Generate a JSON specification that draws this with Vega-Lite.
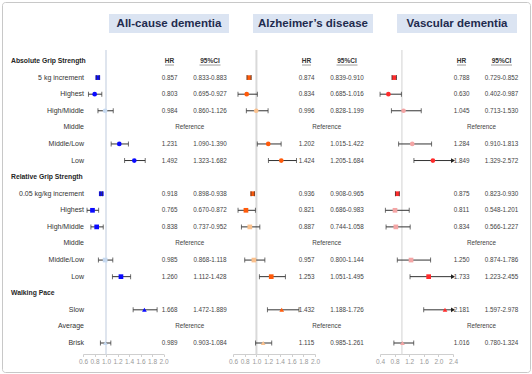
{
"$schema":"https://vega.github.io/schema/vega-lite/v6.json",
"width":532,"height":374,
"autosize":{"type":"fit","contains":"padding"},
"padding":2,
"background":"#ffffff",
"config":{"view":{"stroke":"#c8c8c8","strokeWidth":1,"cornerRadius":3},"font":"Liberation Sans","text":{"font":"Liberation Sans","baseline":"middle"}},
"datasets":{
"rows":[
{"key":"Absolute Grip Strength","label":"Absolute Grip Strength","kind":"hdr"},
{"key":"Absolute: 5 kg increment","label":"5 kg increment","kind":"lbl"},
{"key":"Absolute: Highest","label":"Highest","kind":"lbl"},
{"key":"Absolute: High/Middle","label":"High/Middle","kind":"lbl"},
{"key":"Absolute: Middle","label":"Middle","kind":"lbl"},
{"key":"Absolute: Middle/Low","label":"Middle/Low","kind":"lbl"},
{"key":"Absolute: Low","label":"Low","kind":"lbl"},
{"key":"Relative Grip Strength","label":"Relative Grip Strength","kind":"hdr"},
{"key":"Relative: 0.05 kg/kg increment","label":"0.05 kg/kg increment","kind":"lbl"},
{"key":"Relative: Highest","label":"Highest","kind":"lbl"},
{"key":"Relative: High/Middle","label":"High/Middle","kind":"lbl"},
{"key":"Relative: Middle","label":"Middle","kind":"lbl"},
{"key":"Relative: Middle/Low","label":"Middle/Low","kind":"lbl"},
{"key":"Relative: Low","label":"Low","kind":"lbl"},
{"key":"Walking Pace","label":"Walking Pace","kind":"hdr"},
{"key":"Walking: Slow","label":"Slow","kind":"lbl"},
{"key":"Walking: Average","label":"Average","kind":"lbl"},
{"key":"Walking: Brisk","label":"Brisk","kind":"lbl"}
],
"refs":[{"key":"Absolute: Middle"},{"key":"Relative: Middle"},{"key":"Walking: Average"}],
"titles":[{"outcome":"All-cause dementia"},{"outcome":"Alzheimer’s disease"},{"outcome":"Vascular dementia"}],
"cols":[{"col":"HR","text":"HR"},{"col":"CI","text":"95%CI"}],
"est":[
{"outcome":"ACD","key":"Absolute: 5 kg increment","measure":"Increment","hr":0.857,"lo":0.833,"hi":0.883,"ci":"0.833-0.883","sig":true},
{"outcome":"ACD","key":"Absolute: Highest","measure":"Absolute","hr":0.803,"lo":0.695,"hi":0.927,"ci":"0.695-0.927","sig":true},
{"outcome":"ACD","key":"Absolute: High/Middle","measure":"Absolute","hr":0.984,"lo":0.860,"hi":1.126,"ci":"0.860-1.126","sig":false},
{"outcome":"ACD","key":"Absolute: Middle/Low","measure":"Absolute","hr":1.231,"lo":1.090,"hi":1.390,"ci":"1.090-1.390","sig":true},
{"outcome":"ACD","key":"Absolute: Low","measure":"Absolute","hr":1.492,"lo":1.323,"hi":1.682,"ci":"1.323-1.682","sig":true},
{"outcome":"ACD","key":"Relative: 0.05 kg/kg increment","measure":"Increment","hr":0.918,"lo":0.898,"hi":0.938,"ci":"0.898-0.938","sig":true},
{"outcome":"ACD","key":"Relative: Highest","measure":"Relative","hr":0.765,"lo":0.670,"hi":0.872,"ci":"0.670-0.872","sig":true},
{"outcome":"ACD","key":"Relative: High/Middle","measure":"Relative","hr":0.838,"lo":0.737,"hi":0.952,"ci":"0.737-0.952","sig":true},
{"outcome":"ACD","key":"Relative: Middle/Low","measure":"Relative","hr":0.985,"lo":0.868,"hi":1.118,"ci":"0.868-1.118","sig":false},
{"outcome":"ACD","key":"Relative: Low","measure":"Relative","hr":1.260,"lo":1.112,"hi":1.428,"ci":"1.112-1.428","sig":true},
{"outcome":"ACD","key":"Walking: Slow","measure":"Walking","hr":1.668,"lo":1.472,"hi":1.889,"ci":"1.472-1.889","sig":true},
{"outcome":"ACD","key":"Walking: Brisk","measure":"Walking","hr":0.989,"lo":0.903,"hi":1.084,"ci":"0.903-1.084","sig":false},
{"outcome":"AD","key":"Absolute: 5 kg increment","measure":"Increment","hr":0.874,"lo":0.839,"hi":0.910,"ci":"0.839-0.910","sig":true},
{"outcome":"AD","key":"Absolute: Highest","measure":"Absolute","hr":0.834,"lo":0.685,"hi":1.016,"ci":"0.685-1.016","sig":true},
{"outcome":"AD","key":"Absolute: High/Middle","measure":"Absolute","hr":0.996,"lo":0.828,"hi":1.199,"ci":"0.828-1.199","sig":false},
{"outcome":"AD","key":"Absolute: Middle/Low","measure":"Absolute","hr":1.202,"lo":1.015,"hi":1.422,"ci":"1.015-1.422","sig":true},
{"outcome":"AD","key":"Absolute: Low","measure":"Absolute","hr":1.424,"lo":1.205,"hi":1.684,"ci":"1.205-1.684","sig":true},
{"outcome":"AD","key":"Relative: 0.05 kg/kg increment","measure":"Increment","hr":0.936,"lo":0.908,"hi":0.965,"ci":"0.908-0.965","sig":true},
{"outcome":"AD","key":"Relative: Highest","measure":"Relative","hr":0.821,"lo":0.686,"hi":0.983,"ci":"0.686-0.983","sig":true},
{"outcome":"AD","key":"Relative: High/Middle","measure":"Relative","hr":0.887,"lo":0.744,"hi":1.058,"ci":"0.744-1.058","sig":false},
{"outcome":"AD","key":"Relative: Middle/Low","measure":"Relative","hr":0.957,"lo":0.800,"hi":1.144,"ci":"0.800-1.144","sig":false},
{"outcome":"AD","key":"Relative: Low","measure":"Relative","hr":1.253,"lo":1.051,"hi":1.495,"ci":"1.051-1.495","sig":true},
{"outcome":"AD","key":"Walking: Slow","measure":"Walking","hr":1.432,"lo":1.188,"hi":1.726,"ci":"1.188-1.726","sig":true},
{"outcome":"AD","key":"Walking: Brisk","measure":"Walking","hr":1.115,"lo":0.985,"hi":1.261,"ci":"0.985-1.261","sig":false},
{"outcome":"VD","key":"Absolute: 5 kg increment","measure":"Increment","hr":0.788,"lo":0.729,"hi":0.852,"ci":"0.729-0.852","sig":true},
{"outcome":"VD","key":"Absolute: Highest","measure":"Absolute","hr":0.630,"lo":0.402,"hi":0.987,"ci":"0.402-0.987","sig":true},
{"outcome":"VD","key":"Absolute: High/Middle","measure":"Absolute","hr":1.045,"lo":0.713,"hi":1.530,"ci":"0.713-1.530","sig":false},
{"outcome":"VD","key":"Absolute: Middle/Low","measure":"Absolute","hr":1.284,"lo":0.910,"hi":1.813,"ci":"0.910-1.813","sig":false},
{"outcome":"VD","key":"Absolute: Low","measure":"Absolute","hr":1.849,"lo":1.329,"hi":2.572,"ci":"1.329-2.572","sig":true},
{"outcome":"VD","key":"Relative: 0.05 kg/kg increment","measure":"Increment","hr":0.875,"lo":0.823,"hi":0.930,"ci":"0.823-0.930","sig":true},
{"outcome":"VD","key":"Relative: Highest","measure":"Relative","hr":0.811,"lo":0.548,"hi":1.201,"ci":"0.548-1.201","sig":false},
{"outcome":"VD","key":"Relative: High/Middle","measure":"Relative","hr":0.834,"lo":0.566,"hi":1.227,"ci":"0.566-1.227","sig":false},
{"outcome":"VD","key":"Relative: Middle/Low","measure":"Relative","hr":1.250,"lo":0.874,"hi":1.786,"ci":"0.874-1.786","sig":false},
{"outcome":"VD","key":"Relative: Low","measure":"Relative","hr":1.733,"lo":1.223,"hi":2.455,"ci":"1.223-2.455","sig":true},
{"outcome":"VD","key":"Walking: Slow","measure":"Walking","hr":2.181,"lo":1.597,"hi":2.978,"ci":"1.597-2.978","sig":true},
{"outcome":"VD","key":"Walking: Brisk","measure":"Walking","hr":1.016,"lo":0.780,"hi":1.324,"ci":"0.780-1.324","sig":false}
]
},
"encoding":{"y":{"field":"key","type":"nominal","axis":null,"scale":{"type":"band","domain":["title","blank","Absolute Grip Strength","Absolute: 5 kg increment","Absolute: Highest","Absolute: High/Middle","Absolute: Middle","Absolute: Middle/Low","Absolute: Low","Relative Grip Strength","Relative: 0.05 kg/kg increment","Relative: Highest","Relative: High/Middle","Relative: Middle","Relative: Middle/Low","Relative: Low","Walking Pace","Walking: Slow","Walking: Average","Walking: Brisk","end"],"paddingInner":0,"paddingOuter":0.653,"align":0.81}}},
"resolve":{"scale":{"x":"independent"},"axis":{"x":"independent"}},
"layer":[
{"data":{"name":"titles"},
 "layer":[
  {"mark":{"type":"rect","color":"#dbe4f2","height":19,"yOffset":-4.3},
   "encoding":{"x":{"field":"outcome","type":"nominal","axis":null,"scale":{"type":"band","domain":["All-cause dementia","Alzheimer’s disease","Vascular dementia"],"range":[107,515],"paddingInner":0.167,"paddingOuter":0}},"y":{"datum":"title","type":"nominal","axis":null}}},
  {"mark":{"type":"text","fontSize":11.5,"fontWeight":"bold","color":"#1f2b4e","yOffset":-4.3},
   "encoding":{"x":{"field":"outcome","type":"nominal","axis":null,"scale":{"type":"band","domain":["All-cause dementia","Alzheimer’s disease","Vascular dementia"],"range":[107,515],"paddingInner":0.167,"paddingOuter":0}},"y":{"datum":"title","type":"nominal","axis":null},"text":{"field":"outcome"}}}
 ]},
{"data":{"name":"rows"},
 "layer":[
  {"transform":[{"filter":{"field":"kind","equal":"hdr"}}],
   "mark":{"type":"text","align":"left","fontSize":6.8,"fontWeight":"bold","color":"#262626"},
   "encoding":{"x":{"datum":"hdr","type":"nominal","axis":null,"scale":{"type":"point","domain":["hdr","lbl"],"range":[9,82],"padding":0}},"text":{"field":"label"}}},
  {"transform":[{"filter":{"field":"kind","equal":"lbl"}}],
   "mark":{"type":"text","align":"right","fontSize":7,"color":"#333333"},
   "encoding":{"x":{"datum":"lbl","type":"nominal","axis":null,"scale":{"type":"point","domain":["hdr","lbl"],"range":[9,82],"padding":0}},"text":{"field":"label"}}}
 ]},
{"layer":[
  {"data":{"values":[{"ref":1}]},
   "mark":{"type":"rule","color":"#d5dce9","strokeWidth":1.5,"yOffset":5.5,"y2Offset":-5},
   "encoding":{"x":{"field":"ref","type":"quantitative","scale":{"domain":[0.6,2.0],"range":[81,161.5],"clamp":true,"nice":false,"zero":false},"axis":{"orient":"bottom","offset":-18,"values":[0.6,0.8,1,1.2,1.4,1.6,1.8,2],"format":".1f","title":null,"grid":false,"domainColor":"#cfcfcf","tickColor":"#cfcfcf","tickSize":2.5,"labelColor":"#999999","labelFontSize":6.5,"labelPadding":2,"labelFlush":false,"labelOverlap":false,"labelFont":"Liberation Sans"}},"y":{"datum":"blank","type":"nominal","axis":null},"y2":{"datum":"end"}}},
  {"data":{"name":"est"},"transform":[{"filter":{"field":"outcome","equal":"ACD"}}],
   "layer":[
    {"mark":{"type":"rule","color":"#333333","strokeWidth":1},
     "encoding":{"x":{"field":"lo","type":"quantitative","scale":{"domain":[0.6,2.0],"range":[81,161.5],"clamp":true,"nice":false,"zero":false},"axis":{"orient":"bottom","offset":-18,"title":null}},"x2":{"field":"hi"}}},
    {"mark":{"type":"point","filled":true,"size":22,"opacity":1,"strokeWidth":0},
     "encoding":{"x":{"field":"hr","type":"quantitative","scale":{"domain":[0.6,2.0],"range":[81,161.5],"clamp":true,"nice":false,"zero":false},"axis":{"orient":"bottom","offset":-18,"title":null}},
      "shape":{"field":"measure","type":"nominal","scale":{"domain":["Increment","Absolute","Relative","Walking"],"range":["square","circle","square","triangle-up"]},"legend":null},
      "color":{"condition":{"test":"datum.sig","value":"#0a0aff"},"value":"#c6d9f0"}}},
    {"mark":{"type":"tick","orient":"vertical","color":"#333333","thickness":1,"size":5},
     "encoding":{"x":{"field":"lo","type":"quantitative","scale":{"domain":[0.6,2.0],"range":[81,161.5],"clamp":true,"nice":false,"zero":false},"axis":{"orient":"bottom","offset":-18,"title":null}}}},
    {"mark":{"type":"tick","orient":"vertical","color":"#333333","thickness":1,"size":5},
     "encoding":{"x":{"field":"hi","type":"quantitative","scale":{"domain":[0.6,2.0],"range":[81,161.5],"clamp":true,"nice":false,"zero":false},"axis":{"orient":"bottom","offset":-18,"title":null}}}}
   ]}
 ]},
{"layer":[
  {"data":{"name":"est"},"transform":[{"filter":{"field":"outcome","equal":"ACD"}}],
   "layer":[
    {"mark":{"type":"text","fontSize":6.3,"color":"#444444"},
     "encoding":{"x":{"datum":"HR","type":"nominal","axis":null,"scale":{"type":"point","domain":["HR","REF","CI"],"range":[167.5,208],"padding":0}},"text":{"field":"hr","type":"quantitative","format":".3f"}}},
    {"mark":{"type":"text","fontSize":6.3,"color":"#444444"},
     "encoding":{"x":{"datum":"CI","type":"nominal","axis":null,"scale":{"type":"point","domain":["HR","REF","CI"],"range":[167.5,208],"padding":0}},"text":{"field":"ci"}}}
   ]},
  {"data":{"name":"refs"},
   "mark":{"type":"text","fontSize":6.3,"color":"#444444"},
   "encoding":{"x":{"datum":"REF","type":"nominal","axis":null,"scale":{"type":"point","domain":["HR","REF","CI"],"range":[167.5,208],"padding":0}},"text":{"value":"Reference"}}},
  {"data":{"name":"cols"},
   "layer":[
    {"mark":{"type":"text","fontSize":6.5,"fontWeight":"bold","color":"#333333"},
     "encoding":{"x":{"field":"col","type":"nominal","axis":null,"scale":{"type":"point","domain":["HR","REF","CI"],"range":[167.5,208],"padding":0}},"y":{"datum":"Absolute Grip Strength","type":"nominal","axis":null},"text":{"field":"text"}}},
    {"mark":{"type":"tick","orient":"horizontal","thickness":0.7,"yOffset":4,"color":"#333333"},
     "encoding":{"x":{"field":"col","type":"nominal","axis":null,"scale":{"type":"point","domain":["HR","REF","CI"],"range":[167.5,208],"padding":0}},"y":{"datum":"Absolute Grip Strength","type":"nominal","axis":null},"size":{"condition":{"test":"datum.col === 'HR'","value":9},"value":21}}}
   ]}
 ]},
{"layer":[
  {"data":{"values":[{"ref":1}]},
   "mark":{"type":"rule","color":"#d9d9d9","strokeWidth":2,"yOffset":5.5,"y2Offset":-5},
   "encoding":{"x":{"field":"ref","type":"quantitative","scale":{"domain":[0.6,2.0],"range":[231,313],"clamp":true,"nice":false,"zero":false},"axis":{"orient":"bottom","offset":-18,"values":[0.6,0.8,1,1.2,1.4,1.6,1.8,2],"format":".1f","title":null,"grid":false,"domainColor":"#cfcfcf","tickColor":"#cfcfcf","tickSize":2.5,"labelColor":"#999999","labelFontSize":6.5,"labelPadding":2,"labelFlush":false,"labelOverlap":false,"labelFont":"Liberation Sans"}},"y":{"datum":"blank","type":"nominal","axis":null},"y2":{"datum":"end"}}},
  {"data":{"name":"est"},"transform":[{"filter":{"field":"outcome","equal":"AD"}}],
   "layer":[
    {"mark":{"type":"rule","color":"#333333","strokeWidth":1},
     "encoding":{"x":{"field":"lo","type":"quantitative","scale":{"domain":[0.6,2.0],"range":[231,313],"clamp":true,"nice":false,"zero":false},"axis":{"orient":"bottom","offset":-18,"title":null}},"x2":{"field":"hi"}}},
    {"mark":{"type":"point","filled":true,"size":22,"opacity":1,"strokeWidth":0},
     "encoding":{"x":{"field":"hr","type":"quantitative","scale":{"domain":[0.6,2.0],"range":[231,313],"clamp":true,"nice":false,"zero":false},"axis":{"orient":"bottom","offset":-18,"title":null}},
      "shape":{"field":"measure","type":"nominal","scale":{"domain":["Increment","Absolute","Relative","Walking"],"range":["square","circle","square","triangle-up"]},"legend":null},
      "color":{"condition":{"test":"datum.sig","value":"#ff5a0a"},"value":"#fac18e"}}},
    {"mark":{"type":"tick","orient":"vertical","color":"#333333","thickness":1,"size":5},
     "encoding":{"x":{"field":"lo","type":"quantitative","scale":{"domain":[0.6,2.0],"range":[231,313],"clamp":true,"nice":false,"zero":false},"axis":{"orient":"bottom","offset":-18,"title":null}}}},
    {"mark":{"type":"tick","orient":"vertical","color":"#333333","thickness":1,"size":5},
     "encoding":{"x":{"field":"hi","type":"quantitative","scale":{"domain":[0.6,2.0],"range":[231,313],"clamp":true,"nice":false,"zero":false},"axis":{"orient":"bottom","offset":-18,"title":null}}}}
   ]}
 ]},
{"layer":[
  {"data":{"name":"est"},"transform":[{"filter":{"field":"outcome","equal":"AD"}}],
   "layer":[
    {"mark":{"type":"text","fontSize":6.3,"color":"#444444"},
     "encoding":{"x":{"datum":"HR","type":"nominal","axis":null,"scale":{"type":"point","domain":["HR","REF","CI"],"range":[304.5,345],"padding":0}},"text":{"field":"hr","type":"quantitative","format":".3f"}}},
    {"mark":{"type":"text","fontSize":6.3,"color":"#444444"},
     "encoding":{"x":{"datum":"CI","type":"nominal","axis":null,"scale":{"type":"point","domain":["HR","REF","CI"],"range":[304.5,345],"padding":0}},"text":{"field":"ci"}}}
   ]},
  {"data":{"name":"refs"},
   "mark":{"type":"text","fontSize":6.3,"color":"#444444"},
   "encoding":{"x":{"datum":"REF","type":"nominal","axis":null,"scale":{"type":"point","domain":["HR","REF","CI"],"range":[304.5,345],"padding":0}},"text":{"value":"Reference"}}},
  {"data":{"name":"cols"},
   "layer":[
    {"mark":{"type":"text","fontSize":6.5,"fontWeight":"bold","color":"#333333"},
     "encoding":{"x":{"field":"col","type":"nominal","axis":null,"scale":{"type":"point","domain":["HR","REF","CI"],"range":[304.5,345],"padding":0}},"y":{"datum":"Absolute Grip Strength","type":"nominal","axis":null},"text":{"field":"text"}}},
    {"mark":{"type":"tick","orient":"horizontal","thickness":0.7,"yOffset":4,"color":"#333333"},
     "encoding":{"x":{"field":"col","type":"nominal","axis":null,"scale":{"type":"point","domain":["HR","REF","CI"],"range":[304.5,345],"padding":0}},"y":{"datum":"Absolute Grip Strength","type":"nominal","axis":null},"size":{"condition":{"test":"datum.col === 'HR'","value":9},"value":21}}}
   ]}
 ]},
{"layer":[
  {"data":{"values":[{"ref":1}]},
   "mark":{"type":"rule","color":"#dddddd","strokeWidth":1.3,"yOffset":5.5,"y2Offset":-5},
   "encoding":{"x":{"field":"ref","type":"quantitative","scale":{"domain":[0.4,2.4],"range":[378,451],"clamp":true,"nice":false,"zero":false},"axis":{"orient":"bottom","offset":-18,"values":[0.4,0.8,1.2,1.6,2.0,2.4],"format":".1f","title":null,"grid":false,"domainColor":"#cfcfcf","tickColor":"#cfcfcf","tickSize":2.5,"labelColor":"#999999","labelFontSize":6.5,"labelPadding":2,"labelFlush":false,"labelOverlap":false,"labelFont":"Liberation Sans"}},"y":{"datum":"blank","type":"nominal","axis":null},"y2":{"datum":"end"}}},
  {"data":{"name":"est"},"transform":[{"filter":{"field":"outcome","equal":"VD"}}],
   "layer":[
    {"mark":{"type":"rule","color":"#333333","strokeWidth":1},
     "encoding":{"x":{"field":"lo","type":"quantitative","scale":{"domain":[0.4,2.4],"range":[378,451],"clamp":true,"nice":false,"zero":false},"axis":{"orient":"bottom","offset":-18,"title":null}},"x2":{"field":"hi"}}},
    {"transform":[{"filter":{"field":"hi","gt":2.4}}],
     "mark":{"type":"point","shape":"triangle-right","filled":true,"size":22,"color":"#222222","opacity":1,"strokeWidth":0},
     "encoding":{"x":{"field":"hi","type":"quantitative","scale":{"domain":[0.4,2.4],"range":[378,451],"clamp":true,"nice":false,"zero":false},"axis":{"orient":"bottom","offset":-18,"title":null}}}},
    {"mark":{"type":"point","filled":true,"size":22,"opacity":1,"strokeWidth":0},
     "encoding":{"x":{"field":"hr","type":"quantitative","scale":{"domain":[0.4,2.4],"range":[378,451],"clamp":true,"nice":false,"zero":false},"axis":{"orient":"bottom","offset":-18,"title":null}},
      "shape":{"field":"measure","type":"nominal","scale":{"domain":["Increment","Absolute","Relative","Walking"],"range":["square","circle","square","triangle-up"]},"legend":null},
      "color":{"condition":{"test":"datum.sig","value":"#ff2b2b"},"value":"#f4a5a5"}}},
    {"mark":{"type":"tick","orient":"vertical","color":"#333333","thickness":1,"size":5},
     "encoding":{"x":{"field":"lo","type":"quantitative","scale":{"domain":[0.4,2.4],"range":[378,451],"clamp":true,"nice":false,"zero":false},"axis":{"orient":"bottom","offset":-18,"title":null}}}},
    {"transform":[{"filter":{"field":"hi","lte":2.4}}],
     "mark":{"type":"tick","orient":"vertical","color":"#333333","thickness":1,"size":5},
     "encoding":{"x":{"field":"hi","type":"quantitative","scale":{"domain":[0.4,2.4],"range":[378,451],"clamp":true,"nice":false,"zero":false},"axis":{"orient":"bottom","offset":-18,"title":null}}}}
   ]}
 ]},
{"layer":[
  {"data":{"name":"est"},"transform":[{"filter":{"field":"outcome","equal":"VD"}}],
   "layer":[
    {"mark":{"type":"text","fontSize":6.3,"color":"#444444"},
     "encoding":{"x":{"datum":"HR","type":"nominal","axis":null,"scale":{"type":"point","domain":["HR","REF","CI"],"range":[459.5,499.5],"padding":0}},"text":{"field":"hr","type":"quantitative","format":".3f"}}},
    {"mark":{"type":"text","fontSize":6.3,"color":"#444444"},
     "encoding":{"x":{"datum":"CI","type":"nominal","axis":null,"scale":{"type":"point","domain":["HR","REF","CI"],"range":[459.5,499.5],"padding":0}},"text":{"field":"ci"}}}
   ]},
  {"data":{"name":"refs"},
   "mark":{"type":"text","fontSize":6.3,"color":"#444444"},
   "encoding":{"x":{"datum":"REF","type":"nominal","axis":null,"scale":{"type":"point","domain":["HR","REF","CI"],"range":[459.5,499.5],"padding":0}},"text":{"value":"Reference"}}},
  {"data":{"name":"cols"},
   "layer":[
    {"mark":{"type":"text","fontSize":6.5,"fontWeight":"bold","color":"#333333"},
     "encoding":{"x":{"field":"col","type":"nominal","axis":null,"scale":{"type":"point","domain":["HR","REF","CI"],"range":[459.5,499.5],"padding":0}},"y":{"datum":"Absolute Grip Strength","type":"nominal","axis":null},"text":{"field":"text"}}},
    {"mark":{"type":"tick","orient":"horizontal","thickness":0.7,"yOffset":4,"color":"#333333"},
     "encoding":{"x":{"field":"col","type":"nominal","axis":null,"scale":{"type":"point","domain":["HR","REF","CI"],"range":[459.5,499.5],"padding":0}},"y":{"datum":"Absolute Grip Strength","type":"nominal","axis":null},"size":{"condition":{"test":"datum.col === 'HR'","value":9},"value":21}}}
   ]}
 ]}
]
}
